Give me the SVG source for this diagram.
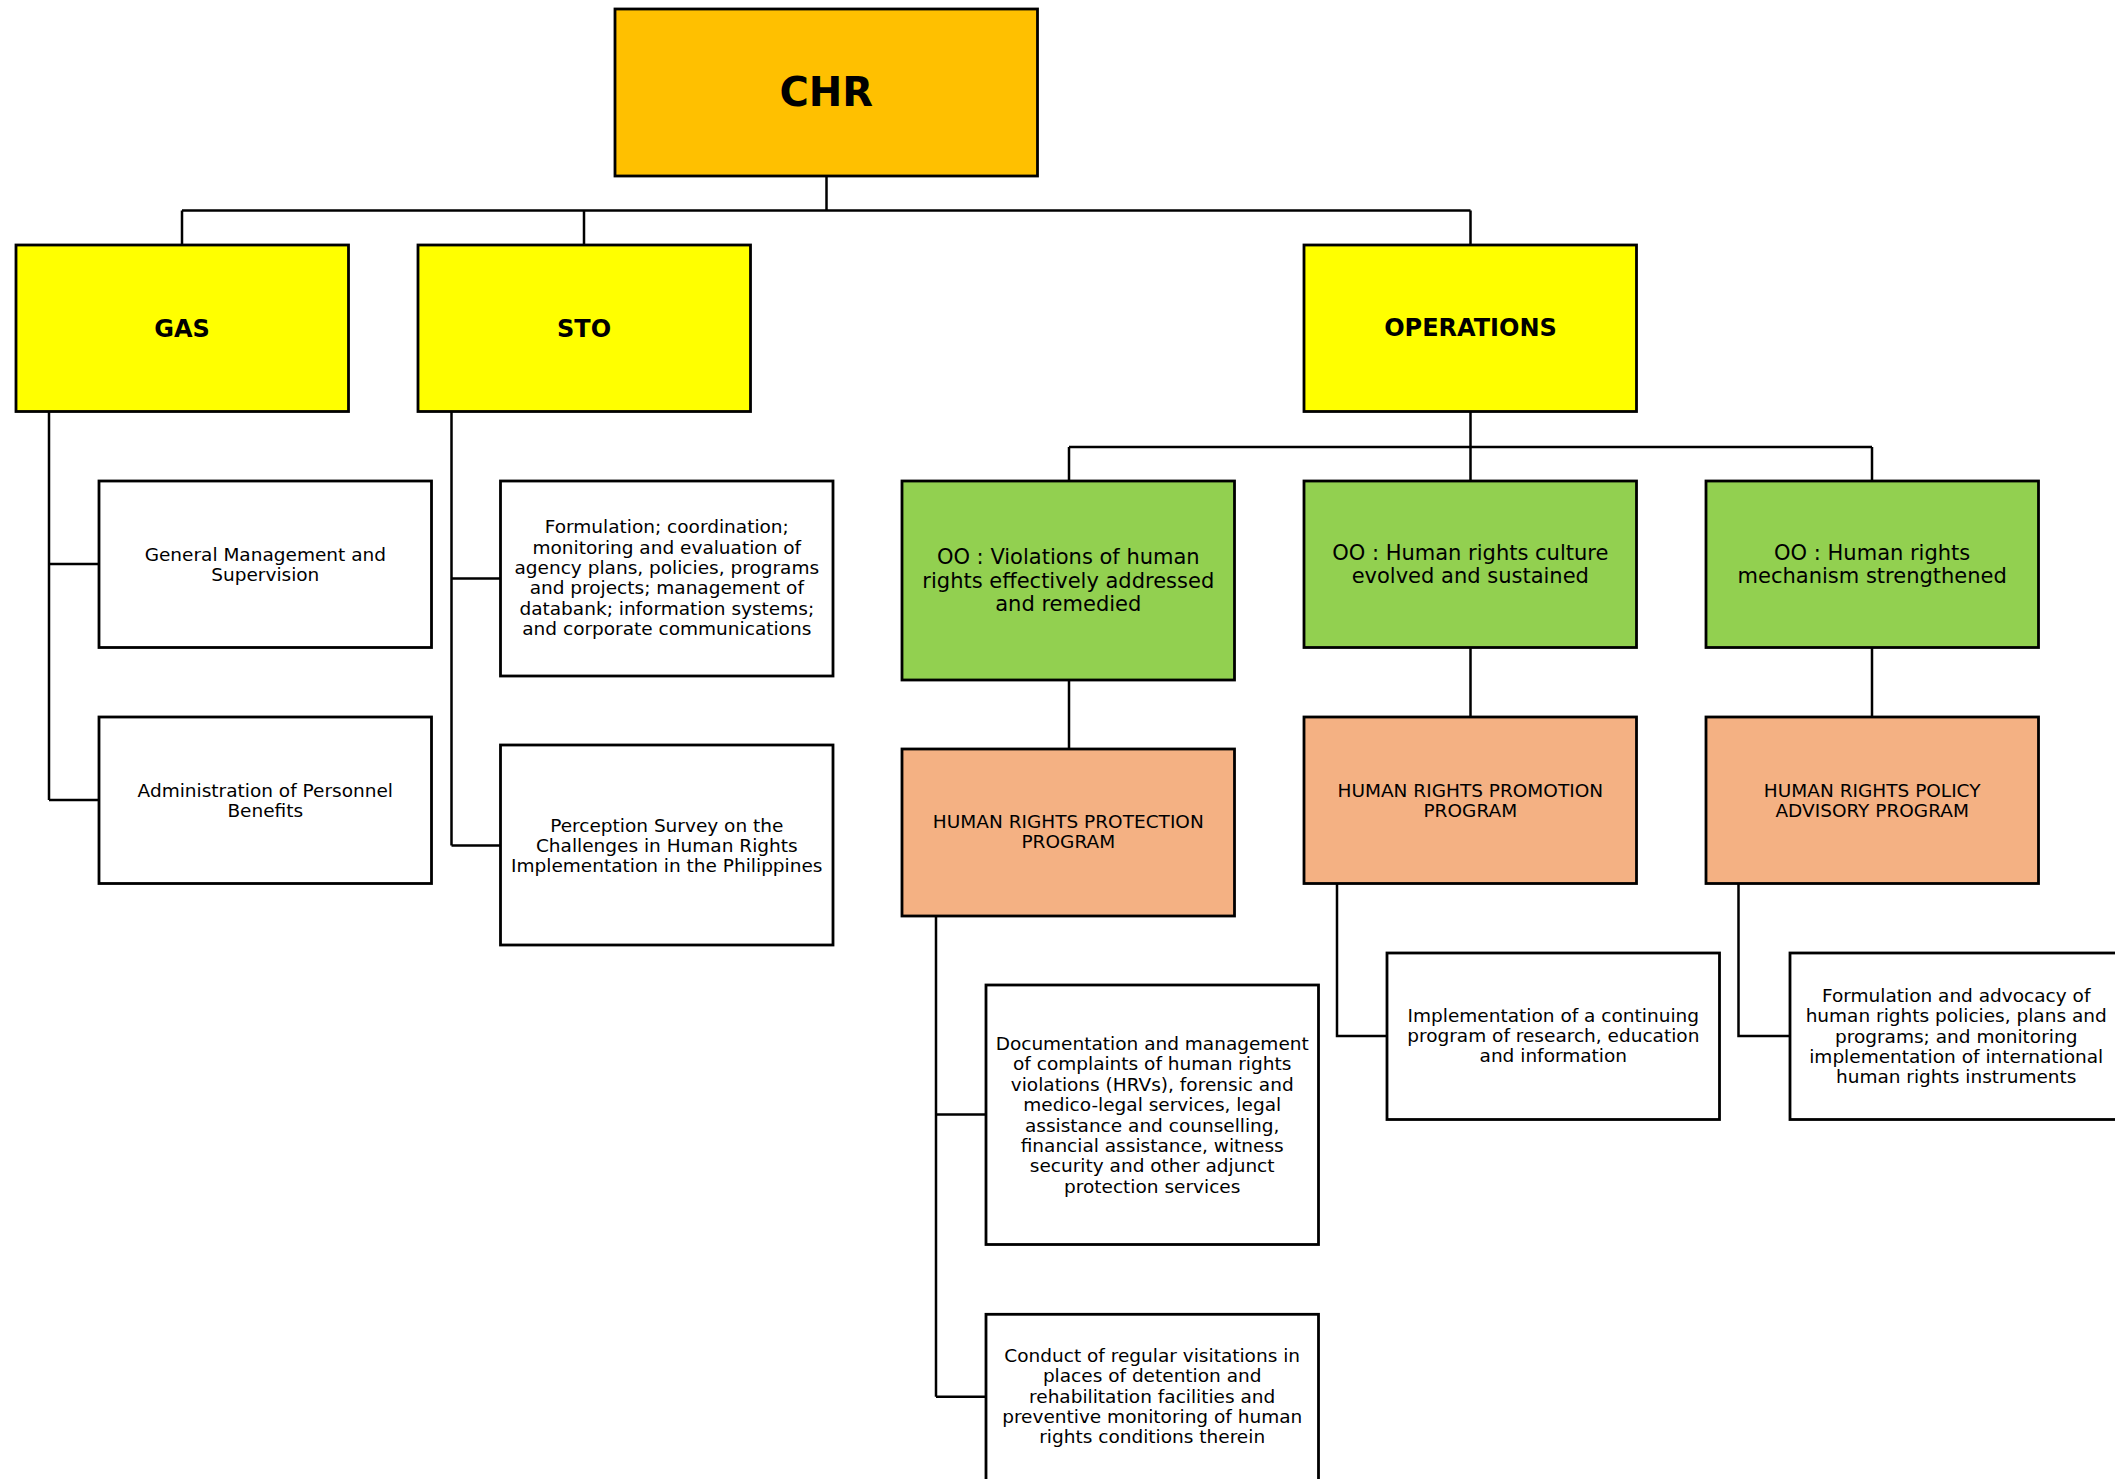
<svg xmlns="http://www.w3.org/2000/svg" width="2115" height="1479" viewBox="0 0 2115 1479">
<style>
.box{stroke:#000;stroke-width:2.8}
.w{fill:#fff}.o{fill:#FFC000}.y{fill:#FFFF00}.g{fill:#92D050}.s{fill:#F4B183}
text{font-family:"DejaVu Sans","Verdana","Liberation Sans",sans-serif;fill:#000;text-anchor:middle}
.t{font-size:18.5px}
.gt{font-size:21px}
.b{font-size:24px;font-weight:bold}
.conn{fill:none;stroke:#000;stroke-width:2.5}
</style>
<rect width="2115" height="1479" fill="#fff"/>
<g id="connectors" class="conn">
<path d="M826.5 176V210.5M182 210.5H1470.5M182 210.5V245M584 210.5V245M1470.5 210.5V245"/>
<path d="M49 411.5V800M49 564H99M49 800H99"/>
<path d="M451.5 411.5V845.5M451.5 578.5H500.5M451.5 845.5H500.5"/>
<path d="M1470.5 412V447M1069 447H1872M1069 447V481M1470.5 447V481M1872 447V481"/>
<path d="M1069 680V749M1470.5 647V717M1872 647V717"/>
<path d="M936 916V1396.7M936 1114.5H986M936 1396.7H986"/>
<path d="M1337 883V1036H1387"/>
<path d="M1738.5 883V1036H1790"/>
</g>
<g id="chr"><rect class="box o" x="615" y="9" width="422.5" height="167"/><text x="826.3" y="106" style="font-size:40px;font-weight:bold">CHR</text></g>
<g id="gas"><rect class="box y" x="16" y="245" width="332.5" height="166.5"/><text class="b" x="182" y="337">GAS</text></g>
<g id="sto"><rect class="box y" x="418" y="245" width="332.5" height="166.5"/><text class="b" x="584" y="337">STO</text></g>
<g id="operations"><rect class="box y" x="1304" y="245" width="332.5" height="166.5"/><text class="b" x="1470.5" y="336">OPERATIONS</text></g>
<g id="gen-mgmt"><rect class="box w" x="99" y="481" width="332.5" height="166.5"/><text class="t" x="265.3"><tspan x="265.3" y="561">General Management and</tspan><tspan x="265.3" y="581">Supervision</tspan></text></g>
<g id="admin"><rect class="box w" x="99" y="717" width="332.5" height="166.5"/><text class="t"><tspan x="265.3" y="796.7">Administration of Personnel</tspan><tspan x="265.3" y="816.7">Benefits</tspan></text></g>
<g id="sto-formulation"><rect class="box w" x="500.5" y="481" width="332.5" height="195"/><text class="t"><tspan x="666.8" y="533.3">Formulation; coordination;</tspan><tspan x="666.8" y="553.7">monitoring and evaluation of</tspan><tspan x="666.8" y="574">agency plans, policies, programs</tspan><tspan x="666.8" y="594.3">and projects; management of</tspan><tspan x="666.8" y="614.7">databank; information systems;</tspan><tspan x="666.8" y="635">and corporate communications</tspan></text></g>
<g id="perception"><rect class="box w" x="500.5" y="745" width="332.5" height="200"/><text class="t"><tspan x="666.8" y="831.7">Perception Survey on the</tspan><tspan x="666.8" y="851.7">Challenges in Human Rights</tspan><tspan x="666.8" y="871.7">Implementation in the Philippines</tspan></text></g>
<g id="oo-violations"><rect class="box g" x="902" y="481" width="332.5" height="199"/><text class="gt"><tspan x="1068.3" y="564.3">OO : Violations of human</tspan><tspan x="1068.3" y="587.6">rights effectively addressed</tspan><tspan x="1068.3" y="610.9">and remedied</tspan></text></g>
<g id="oo-culture"><rect class="box g" x="1304" y="481" width="332.5" height="166.5"/><text class="gt"><tspan x="1470.3" y="560">OO : Human rights culture</tspan><tspan x="1470.3" y="583.3">evolved and sustained</tspan></text></g>
<g id="oo-mechanism"><rect class="box g" x="1706" y="481" width="332.5" height="166.5"/><text class="gt"><tspan x="1872.2" y="560">OO : Human rights</tspan><tspan x="1872.2" y="583.3">mechanism strengthened</tspan></text></g>
<g id="protection"><rect class="box s" x="902" y="749" width="332.5" height="167"/><text class="t"><tspan x="1068.3" y="828.3">HUMAN RIGHTS PROTECTION</tspan><tspan x="1068.3" y="848.3">PROGRAM</tspan></text></g>
<g id="promotion"><rect class="box s" x="1304" y="717" width="332.5" height="166.5"/><text class="t"><tspan x="1470.3" y="796.7">HUMAN RIGHTS PROMOTION</tspan><tspan x="1470.3" y="816.7">PROGRAM</tspan></text></g>
<g id="policy"><rect class="box s" x="1706" y="717" width="332.5" height="166.5"/><text class="t"><tspan x="1872.2" y="796.7">HUMAN RIGHTS POLICY</tspan><tspan x="1872.2" y="816.7">ADVISORY PROGRAM</tspan></text></g>
<g id="documentation"><rect class="box w" x="986" y="985" width="332.5" height="259.5"/><text class="t"><tspan x="1152.2" y="1050">Documentation and management</tspan><tspan x="1152.2" y="1070.4">of complaints of human rights</tspan><tspan x="1152.2" y="1090.8">violations (HRVs), forensic and</tspan><tspan x="1152.2" y="1111.2">medico-legal services, legal</tspan><tspan x="1152.2" y="1131.6">assistance and counselling,</tspan><tspan x="1152.2" y="1152">financial assistance, witness</tspan><tspan x="1152.2" y="1172.4">security and other adjunct</tspan><tspan x="1152.2" y="1192.8">protection services</tspan></text></g>
<g id="conduct"><rect class="box w" x="986" y="1314.3" width="332.5" height="170"/><text class="t"><tspan x="1152.2" y="1361.7">Conduct of regular visitations in</tspan><tspan x="1152.2" y="1382.1">places of detention and</tspan><tspan x="1152.2" y="1402.5">rehabilitation facilities and</tspan><tspan x="1152.2" y="1422.9">preventive monitoring of human</tspan><tspan x="1152.2" y="1443.3">rights conditions therein</tspan></text></g>
<g id="implementation"><rect class="box w" x="1387" y="953" width="332.5" height="166.5"/><text class="t"><tspan x="1553.3" y="1021.7">Implementation of a continuing</tspan><tspan x="1553.3" y="1042">program of research, education</tspan><tspan x="1553.3" y="1062.3">and information</tspan></text></g>
<g id="policy-formulation"><rect class="box w" x="1790" y="953" width="332.5" height="166.5"/><text class="t"><tspan x="1956.2" y="1001.7">Formulation and advocacy of</tspan><tspan x="1956.2" y="1022.1">human rights policies, plans and</tspan><tspan x="1956.2" y="1042.5">programs; and monitoring</tspan><tspan x="1956.2" y="1062.9">implementation of international</tspan><tspan x="1956.2" y="1083.3">human rights instruments</tspan></text></g>
</svg>
